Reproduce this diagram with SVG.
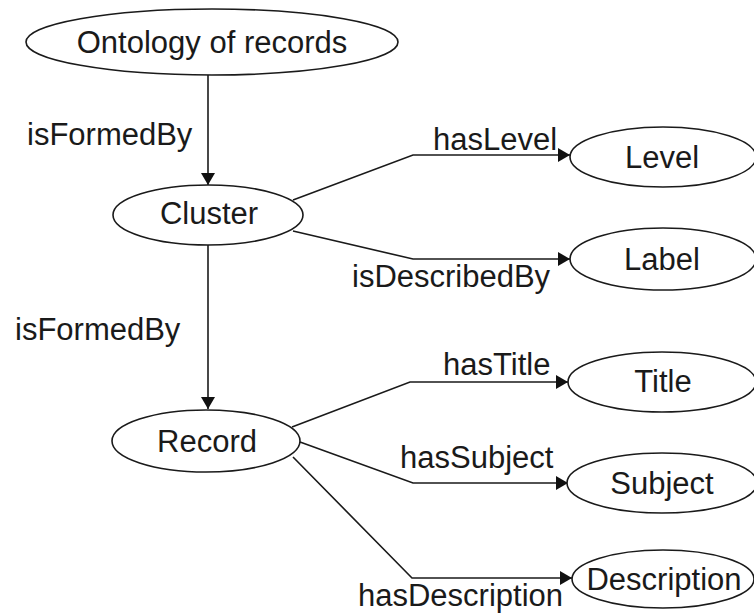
<svg xmlns="http://www.w3.org/2000/svg" width="754" height="615" viewBox="0 0 754 615">
  <style>
    .node ellipse { fill: #ffffff; stroke: #1a1a1a; stroke-width: 1.6; }
    .node text { font-family: "Liberation Sans", Arial, sans-serif; font-size: 31px; fill: #1a1a1a; text-anchor: middle; }
    .edge { fill: none; stroke: #1a1a1a; stroke-width: 1.6; marker-end: url(#arrow); }
    .elabel { font-family: "Liberation Sans", Arial, sans-serif; font-size: 31px; fill: #1a1a1a; }
  </style>
  <defs>
    <marker id="arrow" viewBox="0 0 12 14" refX="12" refY="7" markerWidth="12" markerHeight="14" markerUnits="userSpaceOnUse" orient="auto">
      <path d="M0,0 L12,7 L0,14 Z" fill="#111111"/>
    </marker>
  </defs>
  <rect width="754" height="615" fill="#ffffff"/>

  <g id="connectors">
    <line class="edge" x1="208" y1="75" x2="208" y2="185"/>
    <line class="edge" x1="208" y1="245" x2="208" y2="409"/>
    <polyline class="edge" points="293,200 413,155 570,155"/>
    <polyline class="edge" points="293,231 413,259 570,259"/>
    <polyline class="edge" points="292,427 410,382 568,382"/>
    <polyline class="edge" points="300,442 413,483 568,483"/>
    <polyline class="edge" points="293,457 412,578 572,578"/>
    <text class="elabel" x="27" y="145">isFormedBy</text>
    <text class="elabel" x="15" y="340">isFormedBy</text>
    <text class="elabel" x="433" y="150">hasLevel</text>
    <text class="elabel" x="352" y="287">isDescribedBy</text>
    <text class="elabel" x="443" y="375">hasTitle</text>
    <text class="elabel" x="400" y="468">hasSubject</text>
    <text class="elabel" x="358" y="606">hasDescription</text>
  </g>

  <g id="ontology" class="node">
    <ellipse cx="212" cy="42" rx="186" ry="33"/>
    <text x="212" y="53">Ontology of records</text>
  </g>
  <g id="cluster" class="node">
    <ellipse cx="208" cy="215" rx="95" ry="30"/>
    <text x="209" y="224">Cluster</text>
  </g>
  <g id="record" class="node">
    <ellipse cx="206" cy="441" rx="94" ry="31"/>
    <text x="207" y="452">Record</text>
  </g>
  <g id="level" class="node">
    <ellipse cx="663" cy="157" rx="93" ry="30"/>
    <text x="662" y="168">Level</text>
  </g>
  <g id="label" class="node">
    <ellipse cx="663" cy="259" rx="93" ry="31"/>
    <text x="662" y="270">Label</text>
  </g>
  <g id="title" class="node">
    <ellipse cx="662" cy="382" rx="94" ry="30"/>
    <text x="663" y="392">Title</text>
  </g>
  <g id="subject" class="node">
    <ellipse cx="662" cy="483" rx="95" ry="30"/>
    <text x="662" y="494">Subject</text>
  </g>
  <g id="description" class="node">
    <ellipse cx="663" cy="579" rx="91" ry="29"/>
    <text x="664" y="590">Description</text>
  </g>
</svg>
